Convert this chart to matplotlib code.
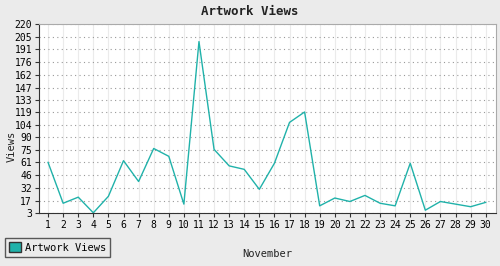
import matplotlib
matplotlib.use("Agg")
import matplotlib.pyplot as plt
from matplotlib.patches import Patch

days = list(range(1, 31))
views = [61, 14, 21, 3, 22, 63, 39, 77, 68, 13,
         200, 76, 57, 53, 30, 60, 107, 119, 11, 20,
         16, 23, 14, 11, 60, 6, 16, 13, 10, 15]
y_ticks = [3, 17, 32, 46, 61, 75, 90, 104, 119, 133, 147, 162, 176, 191, 205, 220]

line_color = "#20B2AA"
font = "DejaVu Sans Mono"

fig = plt.figure(figsize=(5, 2.66), dpi=100, facecolor="#EBEBEB")
ax = fig.add_axes([0.078, 0.2, 0.913, 0.709])
ax.set_facecolor("white")

ax.plot(days, views, color=line_color, linewidth=1)

ax.set_xlim(0.4, 30.65)
ax.set_ylim(3, 220)
ax.set_xticks(days)
ax.set_yticks(y_ticks)
ax.tick_params(labelsize=7, length=3, color="#333333", pad=2)
for lbl in ax.get_xticklabels() + ax.get_yticklabels():
    lbl.set_family(font)

ax.grid(axis="x", color="#EBEBEB", linewidth=0.8, linestyle="-")
ax.grid(axis="y", color="#999999", linewidth=0.8, linestyle=(0, (1, 3)))
ax.set_axisbelow(True)

for side in ["left", "bottom"]:
    ax.spines[side].set_color("#333333")
for side in ["top", "right"]:
    ax.spines[side].set_color("#AAAAAA")

fig.text(0.5, 0.955, "Artwork Views", ha="center", va="center",
         family=font, fontsize=9, fontweight="bold", color="#222222")
fig.text(0.534, 0.045, "November", ha="center", va="center",
         family=font, fontsize=7.5, color="#222222")
fig.text(0.024, 0.45, "Views", ha="center", va="center", rotation=90,
         family=font, fontsize=7.5, color="#222222")

handle = Patch(facecolor=line_color, edgecolor="#333333", label="Artwork Views")
leg = fig.legend(handles=[handle], loc="lower left", bbox_to_anchor=(0.01, 0.035),
                 prop={"family": font, "size": 7.5}, frameon=True, fancybox=False,
                 handlelength=1.1, handleheight=1.2, handletextpad=0.4,
                 borderpad=0.4, borderaxespad=0)
leg.get_frame().set_edgecolor("#333333")
leg.get_frame().set_facecolor("#EBEBEB")
leg.get_frame().set_linewidth(1)

fig.savefig("out.png", dpi=100, facecolor=fig.get_facecolor())
